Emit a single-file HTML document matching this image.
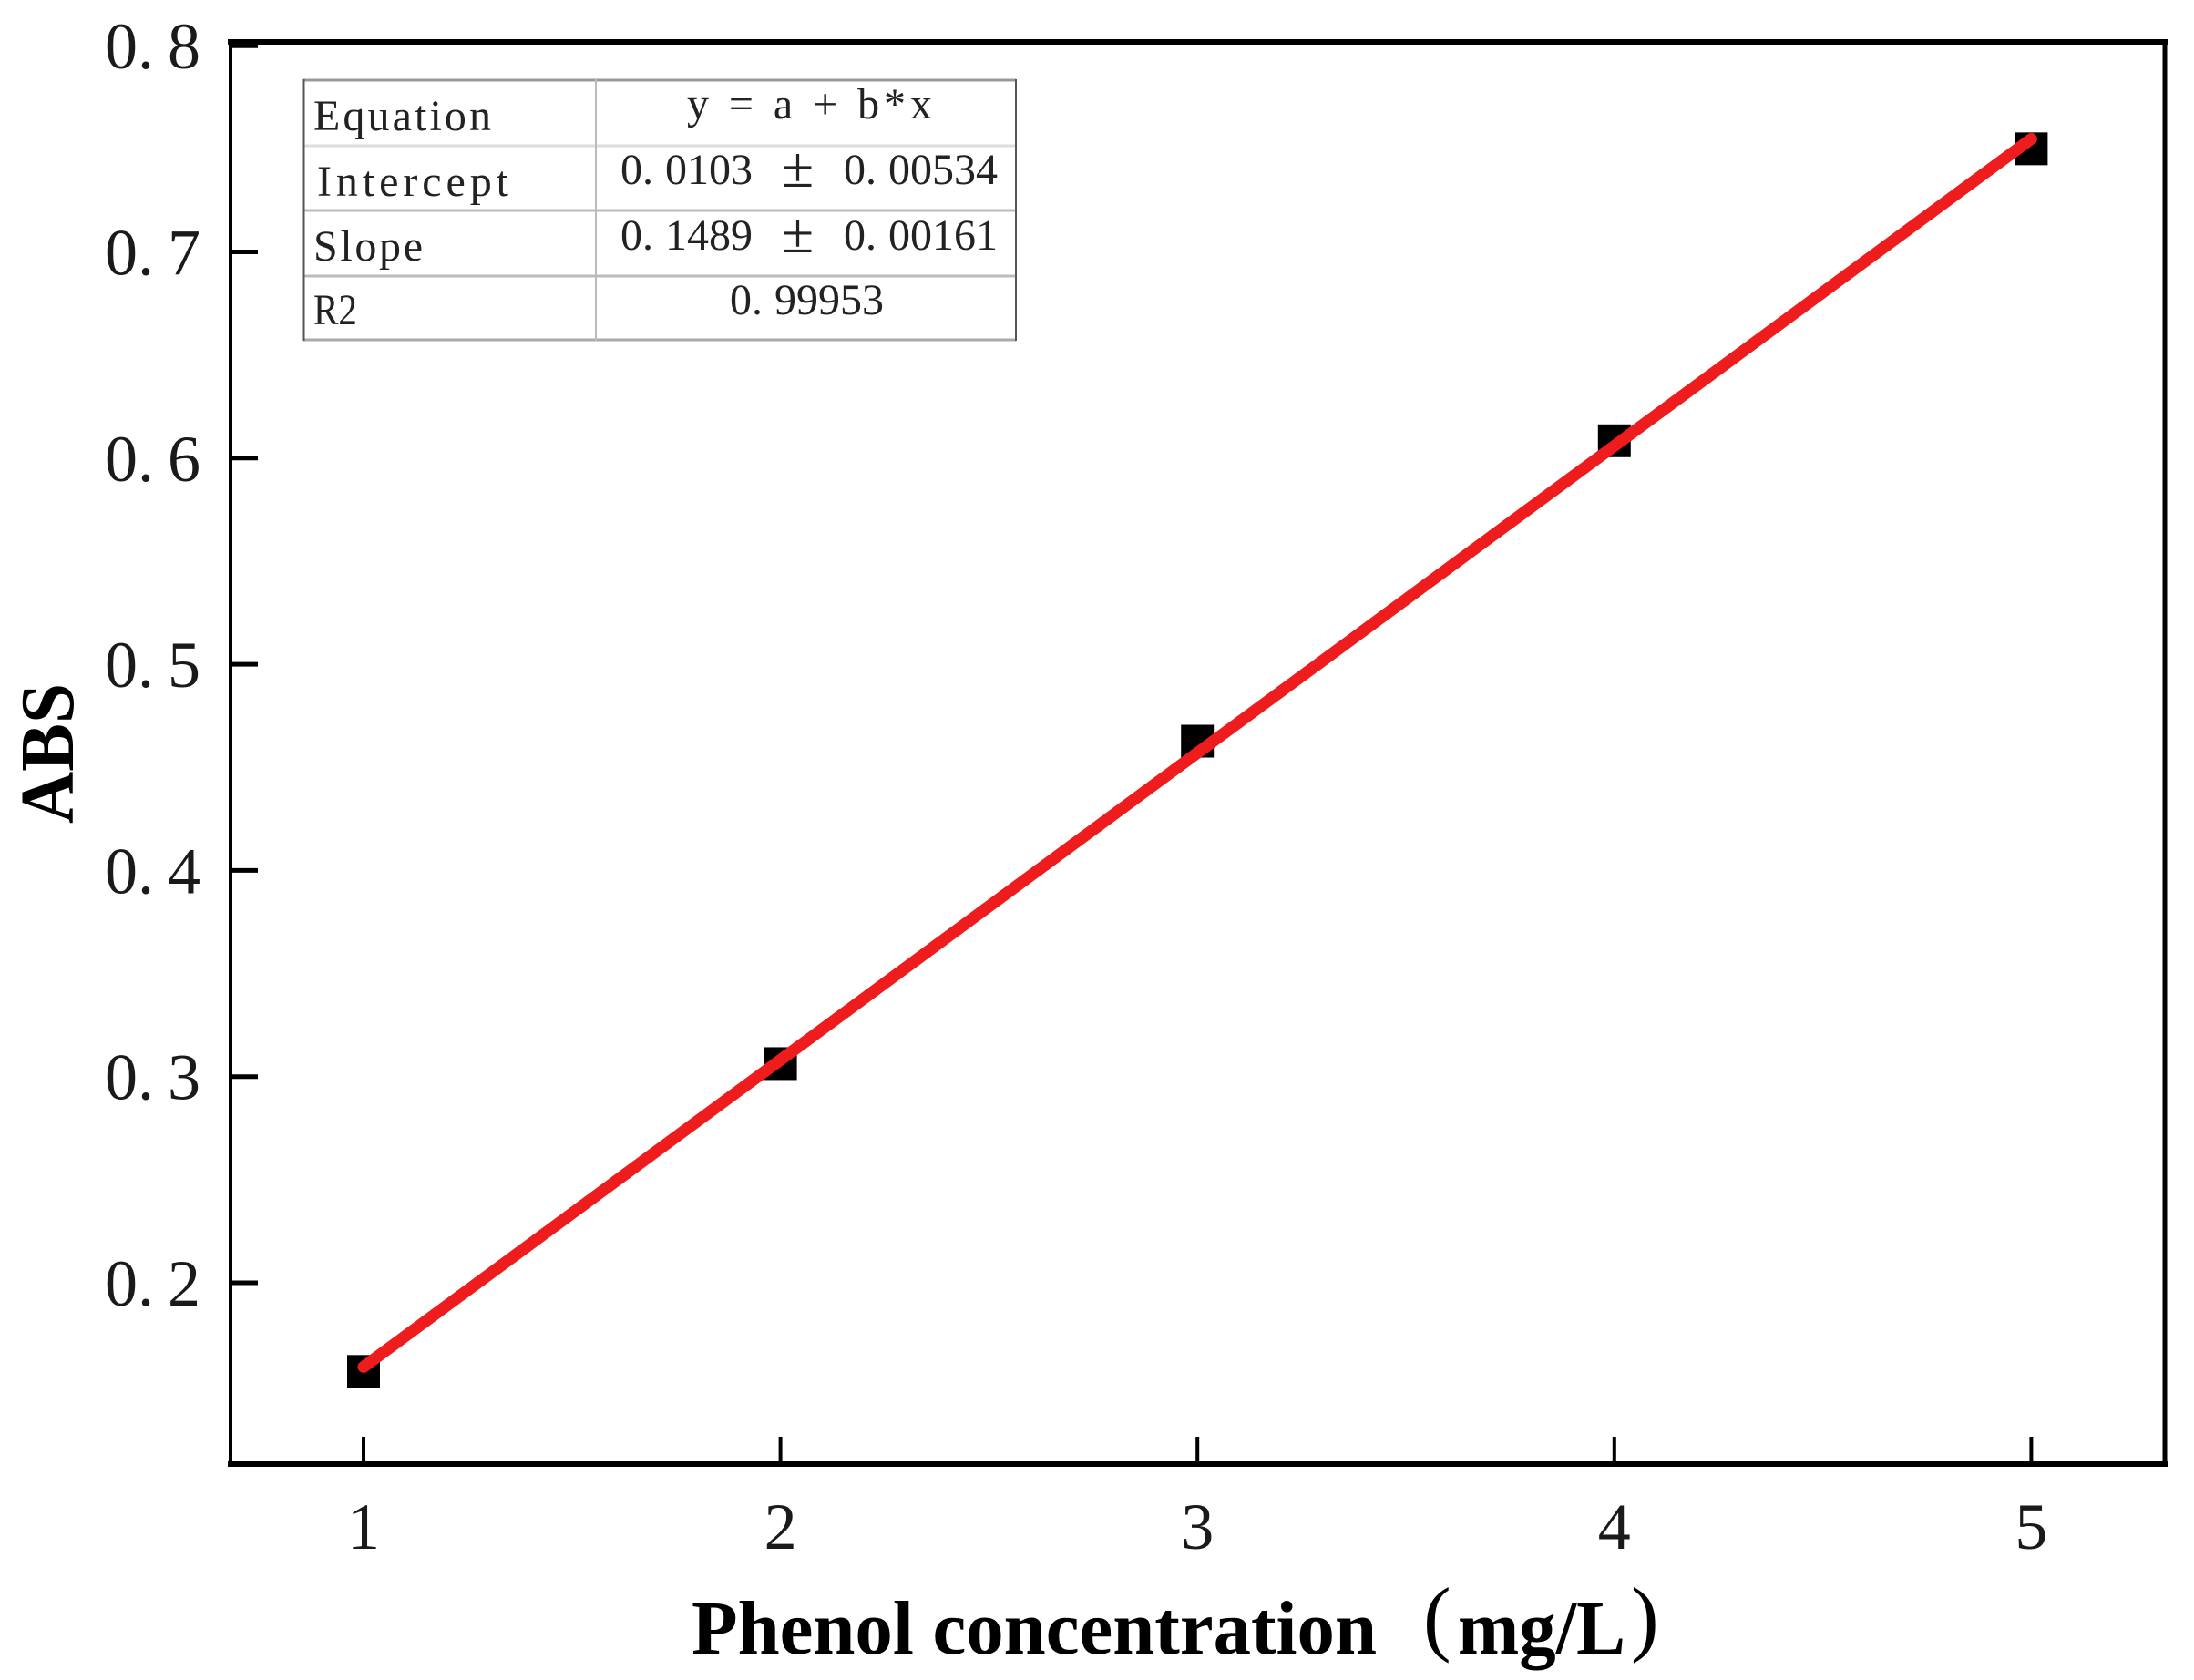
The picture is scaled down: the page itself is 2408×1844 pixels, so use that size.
<!DOCTYPE html>
<html lang="en">
<head>
<meta charset="utf-8">
<title>Phenol calibration curve</title>
<style>
html,body{margin:0;padding:0;background:#fff;}
svg{display:block;}
text{font-family:"Liberation Serif","Noto Serif CJK SC",serif;fill:#111;}
.tbl{font-size:48px;fill:#222;}
.tick{font-size:72px;fill:#1a1a1a;}
.ttl{font-size:84px;font-weight:bold;fill:#000;}
</style>
</head>
<body>
<svg id="chart" xmlns="http://www.w3.org/2000/svg" width="2408" height="1844" viewBox="0 0 2408 1844">
  <rect x="0" y="0" width="2408" height="1844" fill="#fff"/>
  <g id="marks"></g>
  <g id="ticks"></g>
  <g stroke="#000" stroke-linecap="square">
    <line x1="253" y1="46" x2="2376" y2="46" stroke-width="6"/>
    <line x1="2376" y1="46" x2="2376" y2="1607" stroke-width="5"/>
    <line x1="253" y1="1607" x2="2376" y2="1607" stroke-width="6"/>
    <line x1="253" y1="46" x2="253" y2="1607" stroke-width="4"/>
  </g>
  <g>
    <g stroke="#bdbdbd" stroke-width="2">
      <line x1="333" y1="88" x2="1115" y2="88" stroke="#999" stroke-width="3"/>
      <line x1="333" y1="160" x2="1115" y2="160" stroke="#ddd" stroke-width="3"/>
      <line x1="333" y1="231" x2="1115" y2="231" stroke="#bbb" stroke-width="3"/>
      <line x1="333" y1="303" x2="1115" y2="303" stroke="#bbb" stroke-width="3"/>
      <line x1="333" y1="373" x2="1115" y2="373" stroke="#aaa" stroke-width="3"/>
      <line x1="333.5" y1="87" x2="333.5" y2="374" stroke="#555" stroke-width="2"/>
      <line x1="654" y1="87" x2="654" y2="374" stroke="#bbb" stroke-width="2"/>
      <line x1="1115" y1="87" x2="1115" y2="374" stroke="#555" stroke-width="2"/>
    </g>
    <text class="tbl" x="344" y="143" textLength="195" lengthAdjust="spacing">Equation</text>
    <text class="tbl" x="348" y="215" textLength="210" lengthAdjust="spacing">Intercept</text>
    <text class="tbl" x="344" y="286" textLength="120" lengthAdjust="spacing">Slope</text>
    <text class="tbl" x="344" y="356" textLength="48" lengthAdjust="spacingAndGlyphs" style="font-kerning:none">R2</text>
    <text class="tbl" x="754" y="130" textLength="269" lengthAdjust="spacing">y = a + b*x</text>
    <text class="tbl" y="202"><tspan x="681">0.</tspan><tspan dx="13">0103</tspan><tspan x="858" y="205" font-size="64">±</tspan><tspan x="926" y="202">0.</tspan><tspan dx="13">00534</tspan></text>
    <text class="tbl" y="274"><tspan x="681">0.</tspan><tspan dx="13">1489</tspan><tspan x="858" y="277" font-size="64">±</tspan><tspan x="926" y="274">0.</tspan><tspan dx="13">00161</tspan></text>
    <text class="tbl" y="345"><tspan x="801">0.</tspan><tspan dx="13">99953</tspan></text>
  </g>
  <text class="ttl" transform="translate(80,904) rotate(-90)" x="0" y="0" textLength="154" lengthAdjust="spacingAndGlyphs">ABS</text>
  <text class="ttl" y="1815"><tspan x="759" textLength="752" lengthAdjust="spacingAndGlyphs">Phenol concentration</tspan><tspan x="1562" y="1806" font-size="92" font-weight="normal">(</tspan><tspan x="1600" y="1815" textLength="184" lengthAdjust="spacingAndGlyphs">mg/L</tspan><tspan x="1790" y="1806" font-size="92" font-weight="normal">)</tspan></text>
</svg>
<script>
const concentrations = [1, 2, 3, 4, 5];
const absorbance = [0.157, 0.3063, 0.4627, 0.6084, 0.75];
const xTickValues = [1, 2, 3, 4, 5];
const yTickValues = [0.2, 0.3, 0.4, 0.5, 0.6, 0.7, 0.8];
const yTickLabels = ['0.2', '0.3', '0.4', '0.5', '0.6', '0.7', '0.8'];
const fitIntercept = 0.0103;
const fitSlope = 0.1489;

const NS = 'http://www.w3.org/2000/svg';
const xScale = v => 399 + (v - 1) * 457.6;
const yScale = v => 1408 - (v - 0.2) * 2263;
const marks = document.getElementById('marks');
const ticks = document.getElementById('ticks');

concentrations.forEach((c, i) => {
  const s = 36;
  const el = document.createElementNS(NS, 'rect');
  
  
  el.setAttribute('x', xScale(c) - s / 2);
  el.setAttribute('y', yScale(absorbance[i]) - s / 2);
  el.setAttribute('width', s);
  el.setAttribute('height', s);
  el.setAttribute('fill', '#000');
  marks.appendChild(el);
});

const first = concentrations[0];
const last = concentrations[concentrations.length - 1];
const fit = document.createElementNS(NS, 'line');


fit.setAttribute('x1', xScale(first));
fit.setAttribute('y1', yScale(fitIntercept + fitSlope * first));
fit.setAttribute('x2', xScale(last));
fit.setAttribute('y2', yScale(fitIntercept + fitSlope * last));
fit.setAttribute('stroke', '#ee1c1c');
fit.setAttribute('stroke-width', '13');
fit.setAttribute('stroke-linecap', 'round');
marks.appendChild(fit);

xTickValues.forEach(v => {
  const t = document.createElementNS(NS, 'line');
  
  
  t.setAttribute('x1', xScale(v));
  t.setAttribute('x2', xScale(v));
  t.setAttribute('y1', 1577);
  t.setAttribute('y2', 1607);
  t.setAttribute('stroke', '#000');
  t.setAttribute('stroke-width', '4');
  ticks.appendChild(t);
  const l = document.createElementNS(NS, 'text');
  
  
  l.setAttribute('class', 'tick');
  l.setAttribute('x', xScale(v));
  l.setAttribute('y', 1700);
  l.setAttribute('text-anchor', 'middle');
  l.textContent = String(v);
  ticks.appendChild(l);
});

yTickValues.forEach((v, i) => {
  const t = document.createElementNS(NS, 'line');
  
  
  t.setAttribute('x1', 253);
  t.setAttribute('x2', 283);
  t.setAttribute('y1', yScale(v));
  t.setAttribute('y2', yScale(v));
  t.setAttribute('stroke', '#000');
  t.setAttribute('stroke-width', '5');
  ticks.appendChild(t);
  const l = document.createElementNS(NS, 'text');
  
  
  l.setAttribute('class', 'tick');
  l.setAttribute('x', 115);
  l.setAttribute('y', yScale(v) + 25);
  const head = document.createElementNS(NS, 'tspan');
  head.textContent = yTickLabels[i].slice(0, 2);
  l.appendChild(head);
  const tail = document.createElementNS(NS, 'tspan');
  tail.setAttribute('dx', '15');
  tail.textContent = yTickLabels[i].slice(2);
  l.appendChild(tail);
  ticks.appendChild(l);
});
</script>
</body>
</html>
